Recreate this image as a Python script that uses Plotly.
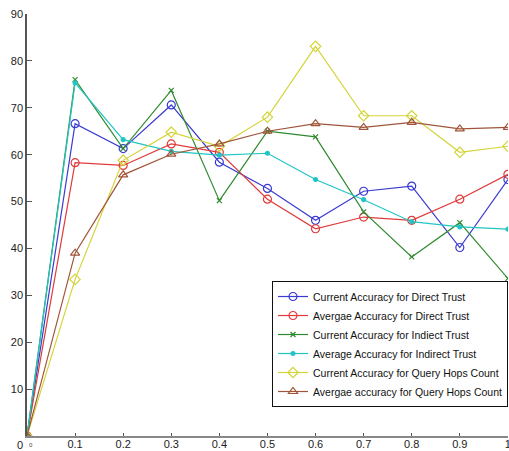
import plotly.graph_objects as go

x_vals = [0, 0.1, 0.2, 0.3, 0.4, 0.5, 0.6, 0.7, 0.8, 0.9, 1.0]
cur_direct = [0, 66.6, 61.3, 70.6, 58.4, 52.8, 46.0, 52.2, 53.3, 40.2, 54.7]
avg_direct = [0, 58.3, 57.7, 62.3, 60.5, 50.5, 44.2, 46.7, 46.0, 50.5, 55.8]
cur_indirect = [0, 76.0, 61.3, 73.7, 50.2, 65.0, 63.8, 47.8, 38.2, 45.5, 33.6]
avg_indirect = [0, 75.3, 63.2, 60.7, 59.9, 60.3, 54.7, 50.4, 45.7, 44.6, 44.1]
cur_hops = [0, 33.4, 58.8, 64.8, 61.8, 68.0, 83.1, 68.3, 68.3, 60.5, 61.8]
avg_hops = [0, 39.0, 55.7, 60.1, 62.3, 65.0, 66.6, 65.8, 66.9, 65.5, 65.8]

x_tickvals = [0.1, 0.2, 0.3, 0.4, 0.5, 0.6, 0.7, 0.8, 0.9, 1.0]
x_ticktext = ["0.1", "0.2", "0.3", "0.4", "0.5", "0.6", "0.7", "0.8", "0.9", "1"]
y_tickvals = [10, 20, 30, 40, 50, 60, 70, 80, 90]

series = [
    ("Current Accuracy for Direct Trust", cur_direct, "#3a3ad0", "circle-open", 8),
    ("Avergae Accuracy for Direct Trust", avg_direct, "#e03a3a", "circle-open", 8),
    ("Current Accuracy for Indiect Trust", cur_indirect, "#2f8a2f", "x-thin-open", 5),
    ("Average Accuracy for Indirect Trust", avg_indirect, "#22c4c4", "circle", 4),
    ("Current Accuracy for Query Hops Count", cur_hops, "#d4d43a", "diamond-open", 8),
    ("Avergae accuracy for Query Hops Count", avg_hops, "#a0553a", "triangle-up-open", 8),
]

fig = go.Figure()
for name, vals, col, sym, sz in series:
    fig.add_trace(go.Scatter(
        x=x_vals, y=vals, name=name, mode="lines+markers",
        line=dict(color=col, width=1.2),
        marker=dict(symbol=sym, size=sz, color=col, line=dict(color=col, width=1.2)),
    ))

fig.update_layout(
    width=509, height=451,
    margin=dict(l=27, r=1, t=14, b=15, autoexpand=False),
    paper_bgcolor="white", plot_bgcolor="white",
    font=dict(family="Liberation Sans, Arial, sans-serif", size=11, color="#222"),
    showlegend=True,
    legend=dict(
        x=1.0, y=0.0687, xanchor="right", yanchor="bottom",
        bgcolor="white", bordercolor="#111", borderwidth=1,
        font=dict(size=10.5, color="#111"),
        tracegroupgap=0, itemwidth=30,
    ),
    xaxis=dict(
        range=[0, 1.0002], tickvals=x_tickvals, ticktext=x_ticktext,
        ticks="inside", ticklen=3, tickcolor="#555",
        showline=True, linecolor="#888", linewidth=2,
        showgrid=False, zeroline=False, automargin=False,
        ticklabelstandoff=-3, ticklabeloverflow="allow",
        tickfont=dict(size=11, color="#222"),
    ),
    yaxis=dict(
        range=[0, 90], tickvals=y_tickvals,
        ticks="inside", ticklen=5, tickcolor="#555",
        showline=True, linecolor="#555", linewidth=1.5,
        showgrid=False, zeroline=False, automargin=False,
        tickfont=dict(size=11, color="#222"),
    ),
    annotations=[
        dict(x=0, y=0, xref="x", yref="y", text="0", showarrow=False,
             xanchor="center", yanchor="top", xshift=-7, yshift=-1,
             font=dict(size=11, color="#222")),
        dict(x=0, y=0, xref="x", yref="y", text="0", showarrow=False,
             xanchor="center", yanchor="top", xshift=4, yshift=-4,
             font=dict(size=6, color="#444")),
    ],
)

fig.write_html(
    "out.html",
    config={"displayModeBar": False},
    post_script="document.body.style.margin='0';document.body.style.overflow='hidden';",
)
